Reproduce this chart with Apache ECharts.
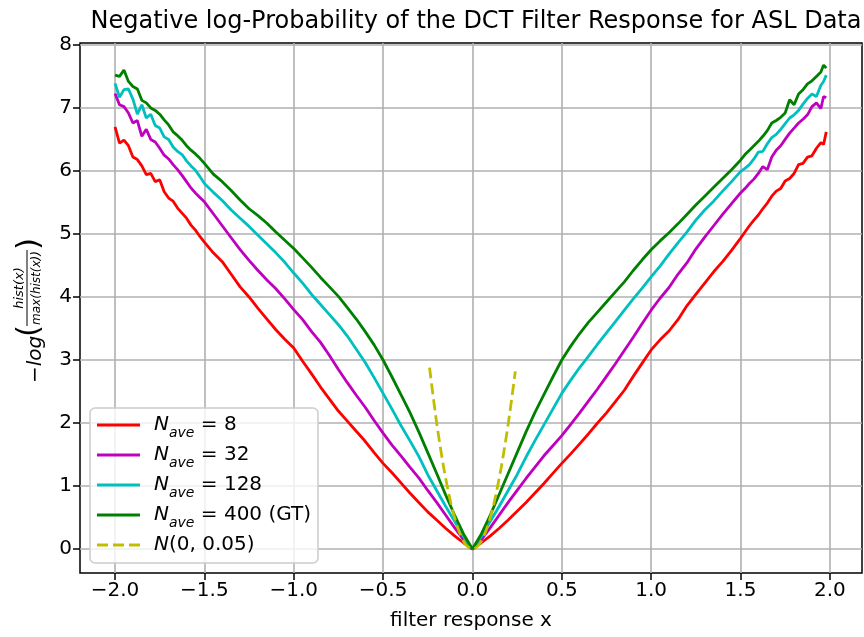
<!DOCTYPE html>
<html><head><meta charset="utf-8">
<script src="https://cdn.jsdelivr.net/npm/echarts@6/dist/echarts.min.js"></script>
<style>html,body{margin:0;padding:0;background:#fff}#c{width:864px;height:637px}</style>
</head><body><div id="c"></div>
<script>
// x positions (filter response); finer sampling in the noisy tails
const xs = [-2.000,-1.975,-1.950,-1.925,-1.900,-1.875,-1.850,-1.825,-1.800,-1.775,
            -1.750,-1.725,-1.700,-1.675,-1.650,-1.625,-1.600,-1.575,-1.550,-1.525,
            -1.50,-1.45,-1.40,-1.35,-1.30,-1.25,-1.20,-1.15,-1.10,-1.05,
            -1.00,-0.95,-0.90,-0.85,-0.80,-0.75,-0.70,-0.65,-0.60,-0.55,
            -0.50,-0.45,-0.40,-0.35,-0.30,-0.25,-0.20,-0.15,-0.10,-0.05,
             0.00,
             0.05, 0.10, 0.15, 0.20, 0.25, 0.30, 0.35, 0.40, 0.45, 0.50,
             0.55, 0.60, 0.65, 0.70, 0.75, 0.80, 0.85, 0.90, 0.95, 1.00,
             1.05, 1.10, 1.15, 1.20, 1.25, 1.30, 1.35, 1.40, 1.45, 1.50,
             1.525,1.550,1.575,1.600,1.625,1.650,1.675,1.700,1.725,1.750,
             1.775,1.800,1.825,1.850,1.875,1.900,1.925,1.950,1.965,1.980];

const nave8 = [6.70,6.44,6.49,6.40,6.22,6.18,6.08,5.94,5.96,5.83,
               5.86,5.67,5.57,5.52,5.41,5.33,5.25,5.14,5.06,4.96,
               4.87,4.70,4.56,4.36,4.16,4.00,3.82,3.65,3.48,3.33,
               3.19,2.98,2.78,2.57,2.38,2.19,2.03,1.87,1.71,1.53,
               1.36,1.21,1.05,0.89,0.74,0.59,0.46,0.33,0.21,0.10,
               0.00,
               0.10,0.21,0.33,0.46,0.60,0.74,0.89,1.04,1.20,1.36,
               1.51,1.67,1.83,2.00,2.16,2.34,2.52,2.74,2.95,3.16,
               3.32,3.46,3.64,3.86,4.04,4.22,4.40,4.56,4.74,4.93,
               5.03,5.13,5.22,5.30,5.40,5.49,5.60,5.68,5.72,5.84,
               5.88,5.96,6.10,6.12,6.22,6.24,6.36,6.45,6.42,6.62];

const nave32 = [7.23,7.05,7.02,6.92,6.76,6.80,6.55,6.66,6.50,6.46,
                6.36,6.25,6.19,6.10,6.02,5.93,5.83,5.73,5.65,5.58,
                5.51,5.32,5.13,4.94,4.75,4.58,4.42,4.27,4.13,3.97,
                3.80,3.64,3.45,3.28,3.07,2.85,2.64,2.44,2.25,2.04,
                1.84,1.65,1.48,1.30,1.13,0.93,0.74,0.54,0.34,0.15,
                0.00,
                0.15,0.34,0.54,0.74,0.93,1.12,1.30,1.48,1.64,1.80,
                1.98,2.16,2.35,2.54,2.74,2.94,3.15,3.36,3.58,3.79,
                3.98,4.15,4.36,4.54,4.76,4.95,5.13,5.31,5.48,5.65,
                5.72,5.80,5.87,5.96,6.07,6.02,6.22,6.33,6.40,6.50,
                6.60,6.68,6.76,6.82,6.89,7.02,7.08,6.99,7.18,7.16];

const nave128 = [7.39,7.17,7.29,7.30,7.14,6.90,7.05,6.84,6.90,6.72,
                 6.68,6.54,6.50,6.38,6.31,6.26,6.16,6.08,6.01,5.91,
                 5.80,5.66,5.53,5.38,5.25,5.12,4.98,4.84,4.70,4.55,
                 4.38,4.22,4.04,3.88,3.72,3.56,3.38,3.17,2.96,2.72,
                 2.47,2.22,1.96,1.72,1.47,1.18,0.93,0.68,0.44,0.20,
                 0.00,
                 0.20,0.44,0.68,0.93,1.18,1.46,1.72,1.97,2.22,2.47,
                 2.68,2.88,3.06,3.25,3.43,3.61,3.79,3.97,4.14,4.32,
                 4.49,4.68,4.86,5.03,5.22,5.38,5.52,5.68,5.83,5.99,
                 6.04,6.10,6.19,6.30,6.31,6.43,6.53,6.58,6.66,6.75,
                 6.84,6.89,6.96,7.06,7.15,7.22,7.18,7.36,7.42,7.52];

const nave400 = [7.52,7.50,7.60,7.42,7.34,7.30,7.12,7.08,7.00,6.96,
                 6.90,6.81,6.73,6.62,6.56,6.49,6.40,6.33,6.27,6.20,
                 6.12,5.95,5.83,5.69,5.54,5.40,5.29,5.17,5.03,4.90,
                 4.77,4.62,4.47,4.31,4.16,4.01,3.83,3.65,3.45,3.24,
                 3.00,2.73,2.45,2.17,1.86,1.53,1.20,0.86,0.54,0.24,
                 0.00,
                 0.24,0.54,0.87,1.20,1.53,1.86,2.17,2.45,2.73,3.00,
                 3.22,3.42,3.60,3.76,3.92,4.08,4.24,4.42,4.59,4.75,
                 4.89,5.02,5.16,5.31,5.46,5.60,5.74,5.88,6.02,6.17,
                 6.26,6.33,6.40,6.47,6.55,6.64,6.76,6.80,6.85,6.92,
                 7.13,7.05,7.22,7.29,7.38,7.43,7.50,7.57,7.68,7.63];

const gaussX = [-0.24,-0.20,-0.16,-0.12,-0.08,-0.04,0.00,0.04,0.08,0.12,0.16,0.20,0.24];
const gaussY = [2.88,2.00,1.28,0.72,0.32,0.08,0.00,0.08,0.32,0.72,1.28,1.98,2.82];

const xTicks = [-2.0,-1.5,-1.0,-0.5,0.0,0.5,1.0,1.5,2.0];
const yTicks = [0,1,2,3,4,5,6,7,8];

const seriesNames = ['Nave = 8','Nave = 32','Nave = 128','Nave = 400 (GT)','N(0, 0.05)'];
const legendLabels = [
  '{i|N}{s|ave}{t| = 8}',
  '{i|N}{s|ave}{t| = 32}',
  '{i|N}{s|ave}{t| = 128}',
  '{i|N}{s|ave}{t| = 400 (GT)}',
  '{i|N}{t|(0, 0.05)}'
];
const colors = ['#ff0000','#bf00bf','#00bfbf','#008000','#bfbf00'];

const FONT = 'DejaVu Sans';
const chart = echarts.init(document.getElementById('c'), null, {renderer:'canvas'});
const pair = (xa, ya) => xa.map((x, i) => [x, ya[i]]);
const mkLine = (name, data, color, extra) => Object.assign({
  name, type:'line', data, showSymbol:false, symbol:'none',
  lineStyle:{color, width:2.8}, itemStyle:{color}, animation:false, z:3
}, extra || {});

const SOLID = 'path://M0,0H43V3H0Z';
const DASHED = 'path://M0,0H11V3H0Z M16,0H27V3H16Z M32,0H43V3H32Z';
const rowCenters = [424, 454, 484, 514, 544];
const legends = seriesNames.map((name, k) => ({
  orient:'vertical', left:97, top:rowCenters[k]-9, z:20,
  data:[{name, icon: k === 4 ? DASHED : SOLID}],
  itemWidth:43, itemHeight:3, itemGap:0, padding:0,
  selectedMode:false,
  formatter: () => legendLabels[k],
  textStyle:{
    fontFamily:FONT, fontSize:20, color:'#000',
    rich:{
      i:{fontFamily:FONT, fontStyle:'italic', fontSize:20, color:'#000', lineHeight:30, padding:[0,0,0,9], verticalAlign:'middle'},
      s:{fontFamily:FONT, fontStyle:'italic', fontSize:14, color:'#000', lineHeight:30, verticalAlign:'bottom'},
      t:{fontFamily:FONT, fontSize:20, color:'#000', lineHeight:30, verticalAlign:'middle'}
    }
  }
}));

const option = {
  backgroundColor:'#fff',
  animation:false,
  title:{
    text:'Negative log-Probability of the DCT Filter Response for ASL Data',
    left:471, top:5, textAlign:'center',
    textStyle:{fontFamily:FONT, fontSize:24, fontWeight:'normal', color:'#000'}
  },
  grid:{left:80, right:2, top:43, bottom:64, show:true, borderColor:'#000', borderWidth:1.5, backgroundColor:'rgba(0,0,0,0)'},
  xAxis:{
    type:'value', min:-2.196, max:2.18,
    axisLine:{show:false, onZero:false},
    axisTick:{show:true, length:7, lineStyle:{color:'#000', width:1.5}, customValues:xTicks},
    axisLabel:{customValues:xTicks, formatter:v => v.toFixed(1).replace('-', '\u2212'),
      fontFamily:FONT, fontSize:20, color:'#000', margin:8},
    splitLine:{show:true, lineStyle:{color:'#b0b0b0', width:1.6}},
    name:'filter response x', nameLocation:'middle', nameGap:38,
    nameTextStyle:{fontFamily:FONT, fontSize:20, color:'#000', verticalAlign:'top'}
  },
  yAxis:{
    type:'value', min:-0.38, max:8.03,
    axisLine:{show:false, onZero:false},
    axisTick:{show:true, length:7, lineStyle:{color:'#000', width:1.5}, customValues:yTicks},
    axisLabel:{customValues:yTicks, formatter:v => String(v), fontFamily:FONT, fontSize:20, color:'#000', margin:8},
    splitLine:{show:true, lineStyle:{color:'#b0b0b0', width:1.6}}
  },
  legend: legends,
  graphic:[
    {type:'rect', z:10, shape:{x:90, y:408, width:228, height:155, r:5},
     style:{fill:'rgba(255,255,255,0.8)', stroke:'#cccccc', lineWidth:1.5}},
    {type:'group', x:36, y:383, rotation:Math.PI/2,
     children:[
      {type:'text', x:0, y:0, style:{text:'\u2212log', font:'italic 20px "DejaVu Sans"', fill:'#000', textAlign:'left', textVerticalAlign:'middle'}},
      {type:'text', x:46, y:-6, style:{text:'(', font:'31px "DejaVu Sans"', fill:'#000', textAlign:'left', textVerticalAlign:'middle'}},
      {type:'text', x:95, y:-16, style:{text:'hist(x)', font:'italic 13px "DejaVu Sans"', fill:'#000', textAlign:'center', textVerticalAlign:'middle'}},
      {type:'line', shape:{x1:57, y1:-9, x2:133, y2:-9}, style:{stroke:'#000', lineWidth:1}},
      {type:'text', x:95, y:1, style:{text:'max(hist(x))', font:'italic 12px "DejaVu Sans"', fill:'#000', textAlign:'center', textVerticalAlign:'middle'}},
      {type:'text', x:133, y:-6, style:{text:')', font:'31px "DejaVu Sans"', fill:'#000', textAlign:'left', textVerticalAlign:'middle'}}
     ]}
  ],
  series:[
    mkLine(seriesNames[0], pair(xs, nave8), colors[0]),
    mkLine(seriesNames[1], pair(xs, nave32), colors[1]),
    mkLine(seriesNames[2], pair(xs, nave128), colors[2]),
    mkLine(seriesNames[3], pair(xs, nave400), colors[3]),
    mkLine(seriesNames[4], pair(gaussX, gaussY), colors[4], {smooth:0.3, lineStyle:{color:colors[4], width:2.8, type:[11,5]}})
  ]
};
chart.setOption(option);
</script>
</body></html>
